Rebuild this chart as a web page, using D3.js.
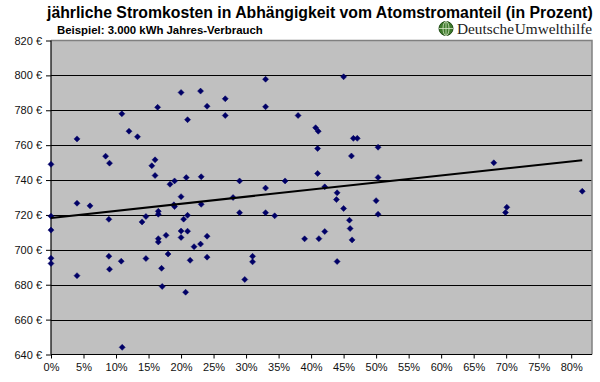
<!DOCTYPE html>
<html><head><meta charset="utf-8">
<script src="https://cdn.jsdelivr.net/npm/d3@7"></script>
<style>body{margin:0;background:#fff}svg{display:block}</style>
</head><body>
<svg id="c" width="600" height="382"></svg>
<script>
const titleText = "jährliche Stromkosten in Abhängigkeit vom Atomstromanteil (in Prozent)";
const subtitleText = "Beispiel: 3.000 kWh Jahres-Verbrauch";
const logoText = "Deutsche Umwelthilfe";
const yTicks = [640,660,680,700,720,740,760,780,800,820];
const xTicks = [0,5,10,15,20,25,30,35,40,45,50,55,60,65,70,75,80];
// Atomstromanteil (%) and jährliche Kosten (€)
const atomShare = [
 0,0,0,0,0, 4,4,4, 6, 8.4, 8.9,8.9, 9,9, 10.8, 10.9, 10.95, 12, 13.3, 14, 14.6,14.6,
 15.5, 16,16, 16.4, 16.5,16.5,16.5,16.5, 17, 17.1, 17.7, 18, 18.3, 18.9, 19,19,
 20,20,20,20, 20.4, 20.7, 20.8, 21,21,21, 21.4, 22, 23,23, 23.1,23.1, 24,24,24,
 26.8,26.8, 28, 29,29, 29.8, 31,31, 33,33,33,33, 34.4, 36, 38, 39, 40.7, 41.1,
 41,41, 41.2, 42.1,42.1, 43.9, 44,44, 45,45, 45.9, 46, 46.2, 46.3, 46.5, 47.1,
 50, 50.3,50.3,50.3, 68.1, 69.9, 70.1, 81.7
];
const costs = [
 749,719.3,711.3,695.2,692.2, 763.6,726.7,685.2, 725.2, 753.7, 717.5,696.3, 749.7,688.9, 693.5, 778, 644.1, 768, 764.8, 716, 719.1,695,
 748.2, 751.6,742.6, 781.7, 722.1,720.4,706.4,704.5, 689.4, 679, 708.3, 697.6, 737.6, 725.8, 739.5,724.8,
 790.2,730.5,710.8,707.1, 717.6, 675.7, 741.4, 774.6,719.8,710.7, 694, 701.8, 791,703.3, 741.9,726.1, 782.3,707.8,695.8,
 786.6,777, 730, 739.5,721.3, 683, 696.3,693.1, 797.8,782,735.4,721.3, 719.5, 739.5, 777, 706.3, 770, 768,
 758.1,743.8, 706.4, 736.1,710.5, 728.8, 732.7,693.3, 799.2,723.7, 717, 712.2, 753.8, 705.7, 763.9, 763.9,
 728.2, 758.8,741.5,720.4, 749.9, 721.4, 724.4, 733.6
];
// trend line as shown in the reference (Atomstromanteil %, €)
const trendShare = [0, 81.7];
const trendCost = [718.3, 751.4];

const svg = d3.select("#c");
const L = 51, R = 592, T = 40.5, B = 354.5;
const x = d3.scaleLinear().domain([0, 83.2]).range([L, R]);
const y = d3.scaleLinear().domain([640, 820]).range([B, T]);

svg.append("rect").attr("x", L).attr("y", T).attr("width", R-L).attr("height", B-T).attr("fill", "#c0c0c0");

// gridlines
svg.append("g").selectAll("line").data(yTicks.filter(d => d > 640 && d < 820)).join("line")
  .attr("x1", L).attr("x2", R).attr("y1", d => Math.round(y(d))+0.5).attr("y2", d => Math.round(y(d))+0.5)
  .attr("stroke", "#000").attr("stroke-width", 1.2);

// border top/right
svg.append("path").attr("d", `M${L},${T}H${R}V${B}`).attr("fill","none").attr("stroke","#808080").attr("stroke-width",1.5);

// axes
const yAxis = d3.axisLeft(y).tickValues(yTicks).tickSize(5).tickPadding(4).tickFormat(d => d + " €");
const gy = svg.append("g").attr("transform", `translate(${L},0)`).call(yAxis);
const xAxis = d3.axisBottom(x).tickValues(xTicks).tickSize(4).tickPadding(5).tickFormat(d => d + "%");
const gx = svg.append("g").attr("transform", `translate(0,${B})`).call(xAxis);
[gx, gy].forEach(g => {
  g.select(".domain").attr("stroke", "#000").attr("stroke-width", 1.2);
  g.selectAll(".tick line").attr("stroke", "#000");
  g.selectAll("text").attr("font-family", "Liberation Sans, Arial, sans-serif").attr("font-size", 11).attr("fill", "#111");
});
gx.select(".domain").attr("d", `M${L},0H${R}`);
gy.select(".domain").attr("d", `M0,${B}V${T}`);

// points
const pts = atomShare.map((v, i) => [v, costs[i]]);
svg.append("g").selectAll("path").data(pts).join("path")
  .attr("transform", d => `translate(${x(d[0])},${y(d[1])})`)
  .attr("d", "M0,-3L3,0L0,3L-3,0Z")
  .attr("fill", "#000066").attr("stroke", "#000066").attr("stroke-width", 0.5);

// trend line
svg.append("path")
  .datum(trendShare.map((v, i) => [v, trendCost[i]]))
  .attr("d", d3.line().x(d => x(d[0])).y(d => y(d[1])))
  .attr("fill", "none").attr("stroke", "#000").attr("stroke-width", 2);

// titles
svg.append("text").attr("x", 47).attr("y", 18).text(titleText)
  .attr("font-family", "Liberation Sans, Arial, sans-serif").attr("font-weight", "bold").attr("font-size", 15.8).attr("fill", "#000");
svg.append("text").attr("x", 57).attr("y", 33.5).text(subtitleText)
  .attr("font-family", "Liberation Sans, Arial, sans-serif").attr("font-weight", "bold").attr("font-size", 11.4).attr("fill", "#000");

// logo
const lg = svg.append("g").attr("transform", "translate(446,28.5)");
lg.append("circle").attr("r", 7).attr("fill", "#3d7a2a").attr("stroke", "#1f4a15").attr("stroke-width", 1);
lg.append("ellipse").attr("rx", 3).attr("ry", 7).attr("fill", "none").attr("stroke", "#d8e8c8").attr("stroke-width", 0.8);
lg.append("line").attr("x1", -7).attr("x2", 7).attr("stroke", "#d8e8c8").attr("stroke-width", 0.8);
lg.append("line").attr("y1", -7).attr("y2", 7).attr("stroke", "#d8e8c8").attr("stroke-width", 0.8);
svg.append("text").attr("x", 457).attr("y", 33.5).text(logoText)
  .attr("font-family", "Liberation Serif, Times New Roman, serif").attr("font-size", 15.3).attr("word-spacing", -3).attr("fill", "#222");
</script>
</body></html>
